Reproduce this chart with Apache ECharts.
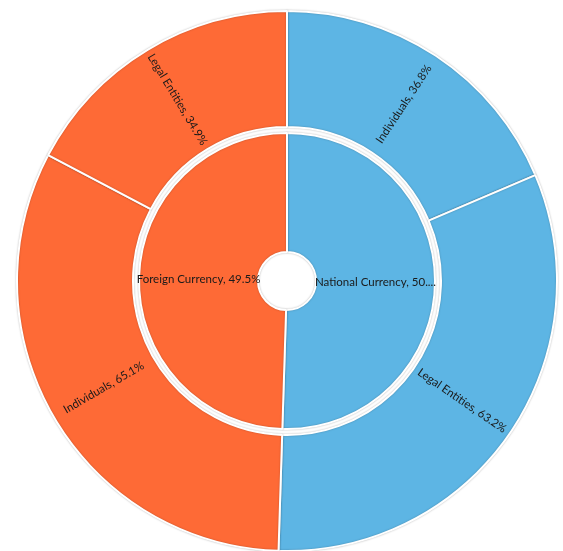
<!DOCTYPE html>
<html>
<head>
<meta charset="utf-8">
<script src="https://cdn.jsdelivr.net/npm/echarts@6/dist/echarts.min.js"></script>
<style>html,body{margin:0;padding:0;background:#fff;}#chart{width:563px;height:551px;}</style>
</head>
<body>
<div id="chart"></div>
<script>
// Inner ring (currency type), share of total, %
var currencies = ['National Currency', 'Foreign Currency'];
var currencyShares = [50.5, 49.5];
var currencyColors = ['#5DB5E4', '#FE6A36'];
// Outer ring: sub-categories with share within their parent, %
var subCategories = [
  ['Individuals', 'Legal Entities'],
  ['Individuals', 'Legal Entities']
];
var subShares = [
  [36.8, 63.2],
  [65.1, 34.9]
];
// label box width for inner ring labels (National is truncated in the original)
var innerLabelWidths = [122.5, 200];

var font = 'Lato, "Noto Sans", sans-serif';

var data = currencies.map(function (name, i) {
  return {
    name: name,
    value: currencyShares[i],
    pct: currencyShares[i],
    itemStyle: { color: currencyColors[i] },
    label: { width: innerLabelWidths[i], overflow: 'truncate', ellipsis: '...' },
    children: subCategories[i].map(function (sub, j) {
      return {
        name: sub,
        value: currencyShares[i] * subShares[i][j] / 100,
        pct: subShares[i][j],
        itemStyle: { color: currencyColors[i] }
      };
    })
  };
});

var chart = echarts.init(document.getElementById('chart'));
chart.setOption({
  animation: false,
  series: [{
    type: 'sunburst',
    center: [287, 281],
    sort: null,
    startAngle: 90,
    clockwise: true,
    nodeClick: false,
    data: data,
    emphasis: { disabled: true },
    itemStyle: {
      borderColor: '#ffffff',
      borderWidth: 2,
      shadowBlur: 2,
      shadowColor: 'rgba(0,0,0,0.25)'
    },
    label: {
      color: '#1a1a1a',
      fontFamily: font,
      fontSize: 11.5,
      formatter: function (p) { return p.name + ', ' + p.data.pct + '%'; }
    },
    levels: [
      {},
      {
        r0: 29, r: 148,
        label: { rotate: 0 }
      },
      {
        r0: 154, r: 270,
        label: { rotate: 'radial' }
      }
    ]
  }]
});
</script>
</body>
</html>
